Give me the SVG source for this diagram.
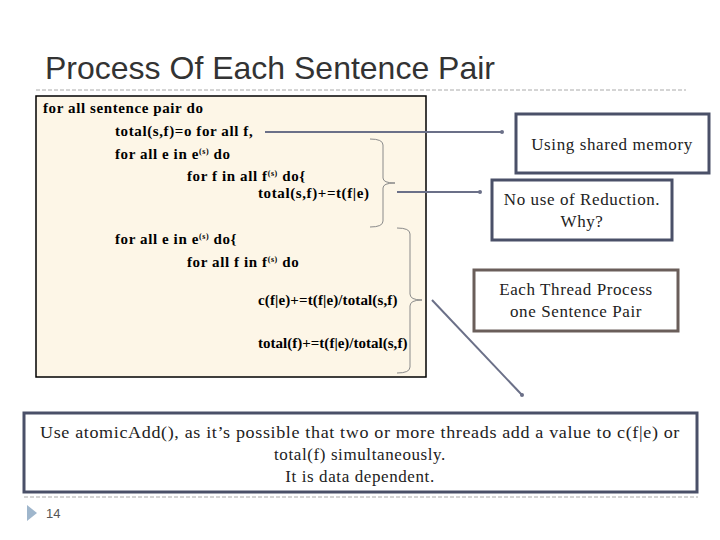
<svg xmlns="http://www.w3.org/2000/svg" width="720" height="540" viewBox="0 0 720 540">
<defs>
<style>
.c{font-family:"Liberation Serif",serif;font-size:15px;font-weight:bold;fill:#000;letter-spacing:0.6px}
.b{font-family:"Liberation Serif",serif;font-size:17px;fill:#222;text-anchor:middle;letter-spacing:0.6px}
.box{fill:#fff;stroke:#4a5068;stroke-width:3}
.br{fill:none;stroke:#8a8a8a;stroke-width:1}
.ln{stroke:#6b7088;stroke-width:2;fill:none;marker-end:url(#dot)}
</style>
<marker id="dot" viewBox="0 0 6 6" refX="3" refY="3" markerWidth="2" markerHeight="2"><circle cx="3" cy="3" r="3" fill="#6b7088"/></marker>
</defs>
<rect width="720" height="540" fill="#fff"/>
<text x="45" y="79" font-family="Liberation Sans,sans-serif" font-size="32" fill="#333">Process Of Each Sentence Pair</text>
<line x1="36" y1="90" x2="686" y2="90" stroke="#aaa" stroke-dasharray="4,2"/>
<g id="code">
<rect x="36" y="96" width="390" height="281" fill="#fdf6e7" stroke="#000" stroke-width="1.5"/>
<text class="c" x="43" y="113">for all sentence pair do</text>
<text class="c" x="115" y="136">total(s,f)=o for all f,</text>
<text class="c" x="115" y="159">for all e in e<tspan font-size="8" dy="-5">(s)</tspan><tspan dy="5"> do</tspan></text>
<text class="c" x="187" y="181">for f in all f<tspan font-size="8" dy="-5">(s)</tspan><tspan dy="5"> do{</tspan></text>
<text class="c" x="258" y="198">total(s,f)+=t(f|e)</text>
<text class="c" x="115" y="244">for all e in e<tspan font-size="8" dy="-5">(s)</tspan><tspan dy="5"> do{</tspan></text>
<text class="c" x="187" y="267">for all f in f<tspan font-size="8" dy="-5">(s)</tspan><tspan dy="5"> do</tspan></text>
<text class="c" x="258" y="305" textLength="140">c(f|e)+=t(f|e)/total(s,f)</text>
<text class="c" x="258" y="348" textLength="150">total(f)+=t(f|e)/total(s,f)</text>
</g>
<g id="brackets">
<path class="br" d="M370,139 Q383,139 383,145 L383,178 Q383,183 395,183 Q383,183 383,188 L383,221 Q383,227 370,227"/>
<path class="br" d="M397,228 Q410,228 410,234 L410,294 Q410,300 422,300 Q410,300 410,306 L410,367 Q410,373 397,373"/>
</g>
<g id="connectors">
<line class="ln" x1="265" y1="132" x2="502" y2="132"/>
<line class="ln" x1="397" y1="192" x2="480" y2="192"/>
<line class="ln" x1="432" y1="300" x2="522" y2="395"/>
</g>
<g id="n1"><rect class="box" x="516" y="114" width="193" height="59"/><text class="b" x="612" y="150">Using shared memory</text></g>
<g id="n2"><rect class="box" x="492" y="180" width="180" height="60"/><text class="b" x="582" y="205">No use of Reduction.</text><text class="b" x="582" y="227">Why?</text></g>
<g id="n3"><rect x="474" y="270" width="204" height="61" fill="#fff" stroke="#6a5e5a" stroke-width="3"/><text class="b" x="576" y="295">Each Thread Process</text><text class="b" x="576" y="317">one Sentence Pair</text></g>
<g id="n4"><rect class="box" x="24" y="413" width="673" height="79"/>
<text class="b" x="360" y="438" textLength="640" lengthAdjust="spacingAndGlyphs" letter-spacing="0">Use atomicAdd(), as it’s possible that two or more threads add a value to c(f|e) or</text>
<text class="b" x="360" y="460">total(f)  simultaneously.</text>
<text class="b" x="360" y="482">It is data dependent.</text></g>
<line x1="24" y1="497" x2="698" y2="497" stroke="#aaa" stroke-dasharray="4,2"/>
<polygon points="27,505 37,513 27,521" fill="#9fb6cc"/>
<text x="46" y="518" font-family="Liberation Sans,sans-serif" font-size="13" fill="#555">14</text>
</svg>
